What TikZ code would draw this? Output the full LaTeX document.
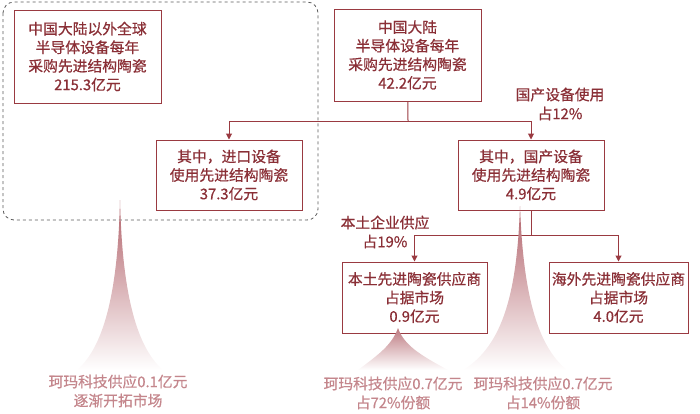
\documentclass[tikz,border=0pt]{standalone}
\usepackage{fontspec}
\setmainfont{Noto Sans CJK SC}[FakeBold=0.6]
\usetikzlibrary{arrows.meta, positioning, calc}
\definecolor{linered}{HTML}{9A3A41}
\definecolor{txtred}{HTML}{8A2F36}
\definecolor{footred}{HTML}{C4868C}
\definecolor{spikered}{HTML}{B2636B}
\definecolor{dashgray}{HTML}{5A5A5A}

\begin{document}
\begin{tikzpicture}[x=1pt, y=-1pt, >={Triangle[width=6pt,length=6pt]},
    databox/.style={draw=linered, line width=1pt, text=txtred, align=center,
      font=\fontsize{14.8}{18.6}\selectfont, inner sep=0pt},
    sidelbl/.style={text=txtred, align=center, font=\fontsize{14.8}{19}\selectfont},
    footlbl/.style={text=footred, align=center, font=\fontsize{14.8}{19}\selectfont},
    link/.style={draw=linered, line width=1pt}]

  \useasboundingbox (0,0) rectangle (700,413);

  % --- Overseas market (dashed frame) ---
  \draw[dashgray, dashed, line width=0.8pt, rounded corners=11pt] (3,2) rectangle (318,220);

  % --- Boxes ---
  \node[databox, minimum width=147pt, minimum height=93pt] (abroadTotal) at (87.5,56.5)
    {中国大陆以外全球\\半导体设备每年\\采购先进结构陶瓷\\215.3亿元};
  \node[databox, minimum width=146pt, minimum height=70pt] (importUse) at (229,175)
    {其中，进口设备\\使用先进结构陶瓷\\37.3亿元};
  \node[databox, minimum width=147pt, minimum height=92pt] (cnTotal) at (407.5,55)
    {中国大陆\\半导体设备每年\\采购先进结构陶瓷\\42.2亿元};
  \node[databox, minimum width=146pt, minimum height=70pt] (domesticUse) at (531,175)
    {其中，国产设备\\使用先进结构陶瓷\\4.9亿元};
  \node[databox, minimum width=145pt, minimum height=71pt] (localSup) at (414.5,297.5)
    {本土先进陶瓷供应商\\占据市场\\0.9亿元};
  \node[databox, minimum width=139pt, minimum height=71pt] (overseasSup) at (618.5,297.5)
    {海外先进陶瓷供应商\\占据市场\\4.0亿元};

  % --- Side labels ---
  \node[sidelbl] (domesticShare) at (560,104) {国产设备使用\\占12\%};
  \node[sidelbl] (localShare) at (385,232) {本土企业供应\\占19\%};

  % --- Connectors ---
  \coordinate (splitTop) at (408,121);
  \coordinate (splitLow) at (531,235);
  \draw[link] (cnTotal) -- (splitTop);
  \draw[link, ->, linered] (splitTop) -| (importUse.north);
  \draw[link, ->, linered] (splitTop) -| (domesticUse.north);
  \draw[link] (domesticUse) -- (splitLow);
  \draw[link, ->, linered] (splitLow) -| (localSup.north);
  \draw[link, ->, linered] (splitLow) -| (overseasSup.north);

  % --- Spikes (Kema share) ---
  \shade[top color=spikered, bottom color=white]
    (120,200) .. controls (122,285) and (134,345) .. (163,370)
    -- (77,370) .. controls (106,345) and (118,285) .. (120,200) -- cycle;
  \shade[top color=spikered, bottom color=white]
    (520,206) .. controls (523,290) and (536,345) .. (567,370)
    -- (463,370) .. controls (504,345) and (517,290) .. (520,206) -- cycle;
  \shade[top color=spikered!85, bottom color=white]
    (398,328) .. controls (404,345) and (420,355) .. (448,370)
    -- (358,370) .. controls (378,355) and (392,345) .. (398,328) -- cycle;

  % --- Footer labels ---
  \node[footlbl] (kemaAbroad) at (118,391) {珂玛科技供应0.1亿元\\逐渐开拓市场};
  \node[footlbl] (kemaLocal) at (393,393) {珂玛科技供应0.7亿元\\占72\%份额};
  \node[footlbl] (kemaDomestic) at (543,393) {珂玛科技供应0.7亿元\\占14\%份额};

\end{tikzpicture}
\end{document}
